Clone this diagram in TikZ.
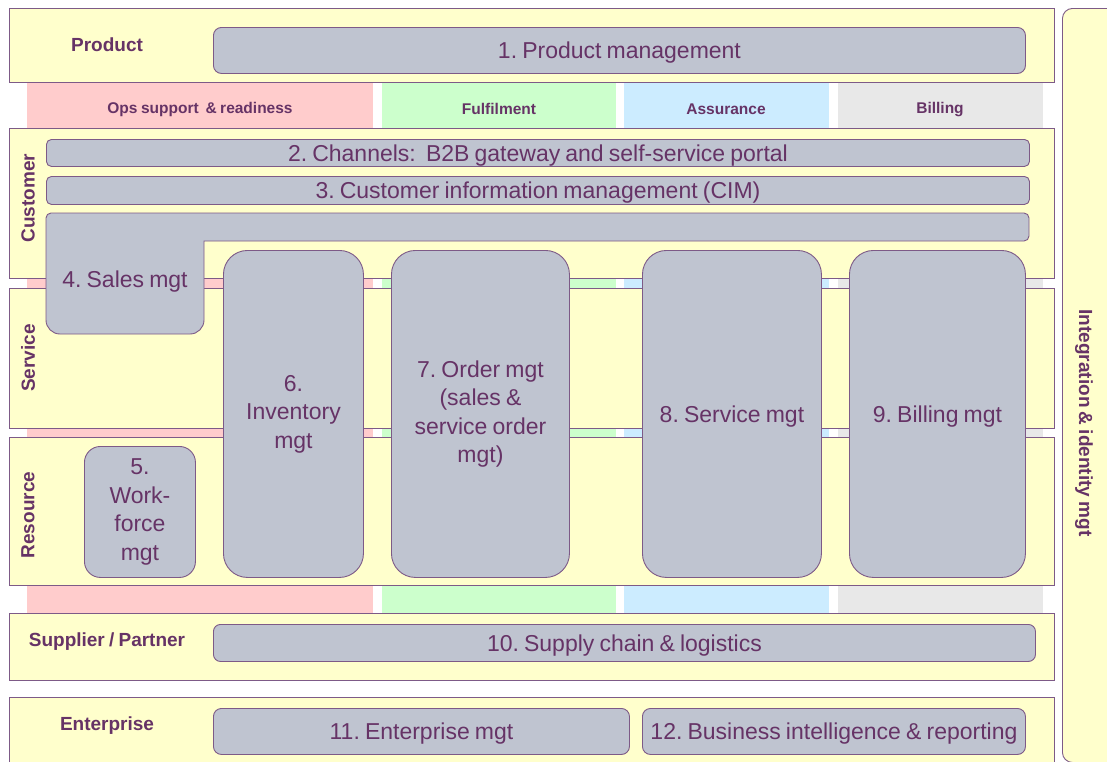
\documentclass[tikz,border=0pt]{standalone}
\usepackage{fontspec}
\setmainfont{Liberation Sans}[WordSpace=0.8]
\frenchspacing
\usepackage{xcolor}
\usepackage{tikz}
\usetikzlibrary{positioning}
\definecolor{bandyellow}{RGB}{255,255,204}
\definecolor{edgepurple}{RGB}{125,90,135}
\definecolor{textpurple}{RGB}{102,51,102}
\definecolor{boxgrey}{RGB}{191,196,208}
\definecolor{opspink}{RGB}{255,204,204}
\definecolor{fulgreen}{RGB}{204,255,204}
\definecolor{assblue}{RGB}{204,236,255}
\definecolor{billgrey}{RGB}{232,232,232}
\newcommand{\boxfont}{\fontsize{23}{28.5}\selectfont}
\newcommand{\layerfont}{\fontsize{19}{22}\selectfont\bfseries}
\newcommand{\colfont}{\fontsize{15.5}{18}\selectfont\bfseries}

\begin{document}
\begin{tikzpicture}[x=1pt, y=-1pt, text=textpurple,
    band/.style={draw=edgepurple, line width=0.9pt, fill=bandyellow, anchor=north west, inner sep=0pt},
    strip/.style={anchor=north west, inner sep=0pt, minimum height=531},
    colhead/.style={font=\colfont, execute at begin node={\rule{0pt}{13.5pt}}},
    layer/.style={font=\layerfont},
    fnbox/.style={draw=edgepurple, line width=0.9pt, fill=boxgrey, anchor=north west, inner sep=2pt, font=\boxfont, align=center,
        execute at begin node={\rule{0pt}{21pt}}},
    bigbox/.style={fnbox, rounded corners=24pt, minimum height=327},
    boxtext/.style={font=\boxfont, align=center, execute at begin node={\rule{0pt}{21pt}}}]
    \useasboundingbox (0,0) rectangle (1107,761);

    % value streams behind the layers
    \node[strip, fill=opspink, minimum width=346] (ops) at (27,82) {};
    \node[strip, fill=fulgreen, minimum width=234] (ful) at (382,82) {};
    \node[strip, fill=assblue, minimum width=205] (ass) at (624,82) {};
    \node[strip, fill=billgrey, minimum width=205] (bil) at (838,82) {};
    \node[colhead] (opshead) at (200,108) {Ops support\ \ \& readiness};
    \node[colhead] (fulhead) at (499,108) {Fulfilment};
    \node[colhead] (asshead) at (726,108) {Assurance};
    \node[colhead] (bilhead) at (940,108) {Billing};

    % layers
    \node[band, minimum width=1045, minimum height=74] (product) at (9,8) {};
    \node[band, minimum width=1045, minimum height=150] (customer) at (9,128) {};
    \node[band, minimum width=1045, minimum height=140] (service) at (9,288) {};
    \node[band, minimum width=1045, minimum height=148] (resource) at (9,437) {};
    \node[band, minimum width=1045, minimum height=67] (supplier) at (9,613) {};
    \node[band, minimum width=1045, minimum height=68] (enterprise) at (9,697) {};
    \node[band, rounded corners=10pt, minimum width=55, minimum height=754] (integration) at (1062,8) {};

    \node[layer] (productlbl) at (107,45) {Product};
    \node[layer, rotate=90] (customerlbl) at (28,198) {Customer};
    \node[layer, rotate=90] (servicelbl) at (28,358) {Service};
    \node[layer, rotate=90] (resourcelbl) at (28,515) {Resource};
    \node[layer] (supplierlbl) at (107,642) {Supplier / Partner};
    \node[layer] (enterpriselbl) at (107,726) {Enterprise};
    \node[layer, rotate=-90] (integrationlbl) at (1084,423) {Integration \& identity mgt};

    % functions
    \node[fnbox, rounded corners=8pt, minimum width=812, minimum height=46] (prodmgt) at (213,27) {1. Product management};
    \node[fnbox, rounded corners=5pt, minimum width=983, minimum height=27] (channels) at (46,139) {};
    \node[boxtext] at (channels.center) {2. Channels:\ \ B2B gateway and self-service portal};
    \node[fnbox, rounded corners=5pt, minimum width=983, minimum height=28] (cim) at (46,176) {};
    \node[boxtext] at (cim.center) {3. Customer information management (CIM)};
    % sales mgt runs across the customer layer and drops into service
    \draw[draw=edgepurple, line width=0.9pt, fill=boxgrey] (46,300) -- (46,320) arc[start angle=180, end angle=90, radius=14]
        -- (190,334) arc[start angle=90, end angle=0, radius=14]
        -- (204,241) -- (1024,241) arc[start angle=90, end angle=0, radius=5]
        -- (1029,218) arc[start angle=0, end angle=-90, radius=5]
        -- (51,213) arc[start angle=270, end angle=180, radius=5] -- cycle;
    \node[boxtext] (sales) at (125,279) {4. Sales mgt};
    \node[fnbox, rounded corners=16pt, minimum width=111, minimum height=131] (workforce) at (84,446) {5.\\Work-\\force\\mgt};
    \node[bigbox, minimum width=140] (inventory) at (223,250) {6.\\Inventory\\mgt};
    \node[bigbox, minimum width=178] (order) at (391,250) {7. Order mgt\\(sales \&\\service order\\mgt)};
    \node[bigbox, minimum width=179] (servmgt) at (642,250) {8. Service mgt};
    \node[bigbox, minimum width=176] (billmgt) at (849,250) {9. Billing mgt};
    \node[fnbox, rounded corners=7pt, minimum width=822, minimum height=37] (supply) at (213,624) {10. Supply chain \& logistics};
    \node[fnbox, rounded corners=8pt, minimum width=416, minimum height=46] (entmgt) at (213,708) {11. Enterprise mgt};
    \node[fnbox, rounded corners=8pt, minimum width=383, minimum height=46] (bi) at (642,708) {12. Business intelligence \& reporting};
\end{tikzpicture}
\end{document}
